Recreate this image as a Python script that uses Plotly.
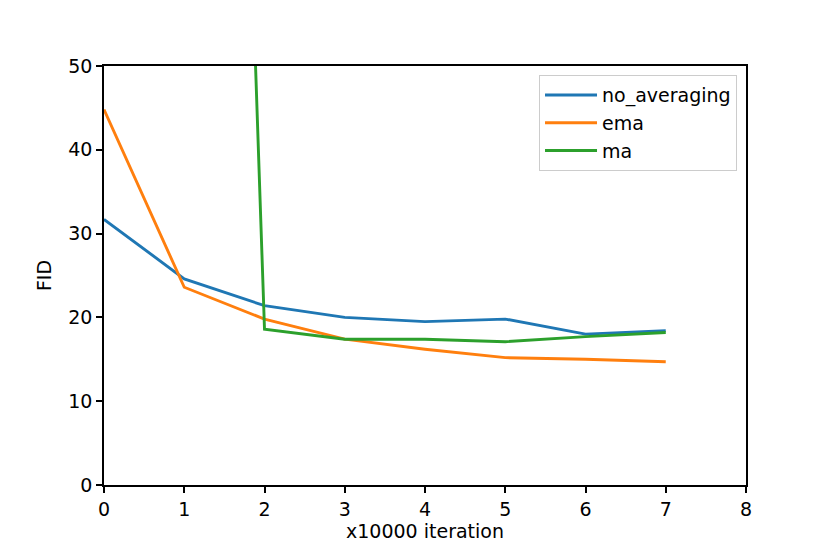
import plotly.graph_objects as go

# x10000 iterations
iterations = [0, 1, 2, 3, 4, 5, 6, 7]

# FID per averaging method
no_averaging = [31.7, 24.6, 21.4, 20.0, 19.5, 19.8, 18.0, 18.4]
ema = [44.8, 23.6, 19.8, 17.4, 16.2, 15.2, 15.0, 14.7]
ma = [340.0, 300.0, 18.6, 17.4, 17.4, 17.1, 17.7, 18.2]

series = [
	("no_averaging", no_averaging, "#1f77b4"),
	("ema", ema, "#ff7f0e"),
	("ma", ma, "#2ca02c"),
]

FONT = "DejaVu Sans"

fig = go.Figure()
for name, values, color in series:
	fig.add_trace(
		go.Scatter(
			x=iterations,
			y=values,
			name=name,
			mode="lines",
			line={"color": color, "width": 2.9},
		)
	)

axis_style = dict(
	showline=True,
	mirror=True,
	linecolor="black",
	linewidth=1.5,
	ticks="outside",
	ticklen=6,
	tickwidth=1.5,
	tickcolor="black",
	showgrid=False,
	zeroline=False,
	tickfont={"family": FONT, "size": 19, "color": "black"},
)

fig.update_xaxes(
	range=[0, 8],
	dtick=1,
	title={"text": "x10000 iteration", "font": {"family": FONT, "size": 19, "color": "black"}, "standoff": 6},
	**axis_style,
)
fig.update_yaxes(
	range=[0, 50],
	dtick=10,
	title={"text": "FID", "font": {"family": FONT, "size": 19, "color": "black"}, "standoff": 12},
	**axis_style,
)

# the page body adds ~8px offset, so margins are trimmed to land the axes where the reference has them
fig.update_layout(
	width=830,
	height=554,
	margin={"l": 96, "r": 92, "t": 58, "b": 77},
	paper_bgcolor="white",
	plot_bgcolor="white",
	font={"family": FONT, "size": 19, "color": "black"},
	legend={
		"x": 0.986,
		"y": 0.978,
		"xanchor": "right",
		"yanchor": "top",
		"itemwidth": 52,
		"bgcolor": "rgba(255,255,255,0.8)",
		"bordercolor": "#cccccc",
		"borderwidth": 1,
		"font": {"family": FONT, "size": 19, "color": "black"},
	},
)

fig.write_html("out.html")
